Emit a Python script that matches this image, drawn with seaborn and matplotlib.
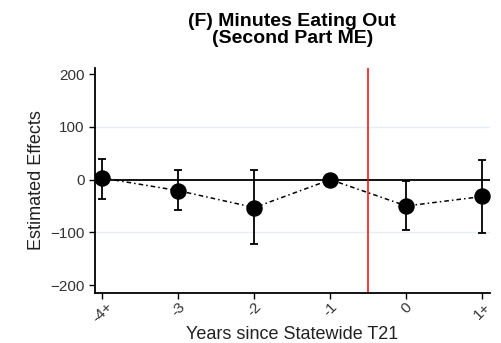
import matplotlib
matplotlib.use("Agg")
import matplotlib.pyplot as plt
import seaborn as sns
import pandas as pd

# Datos
years = [-4, -3, -2, -1, 0, 1]
year_labels = ["-4+", "-3", "-2", "-1", "0", "1+"]
estimate = [3, -21, -53, 0, -50, -32]
ci_low = [-36, -57, -122, 0, -95, -101]
ci_high = [40, 19, 19, 0, -2, 37]

df = pd.DataFrame({"year": years, "estimate": estimate})

sns.set_style("white")
plt.rcParams["font.family"] = ["Liberation Sans", "DejaVu Sans"]

fig = plt.figure(figsize=(5.02, 3.43), dpi=100)
ax = fig.add_axes([0.189, 0.146, 0.787, 0.656])

# lineas de referencia
for yv in [-100, 100]:
    ax.axhline(yv, color="#e6eef5", lw=1, zorder=0)
ax.axhline(0, color="black", lw=1.3, zorder=1)
ax.axvline(-0.5, color="red", lw=1.1, zorder=1)

# intervalos de confianza (sin barra para el periodo de referencia)
for x, lo, hi in zip(years, ci_low, ci_high):
    if lo == hi:
        continue
    ax.errorbar([x], [(lo + hi) / 2], yerr=[[(hi - lo) / 2]], fmt="none",
                ecolor="black", elinewidth=1.3, capsize=3, capthick=1.3, zorder=2)

sns.lineplot(data=df, x="year", y="estimate", ax=ax, color="black",
             lw=1.1, linestyle=(0, (3, 2, 1, 2)), zorder=3)
sns.scatterplot(data=df, x="year", y="estimate", ax=ax, color="black",
                s=120, edgecolor="black", zorder=4)

ax.set_xlim(-4.1, 1.1)
ax.set_ylim(-215, 212)
ax.set_yticks([-200, -100, 0, 100, 200])
ax.set_xticks(years)
ax.set_xticklabels(year_labels, rotation=45, ha="center")

for s in ["top", "right"]:
    ax.spines[s].set_visible(False)
for s in ["left", "bottom"]:
    ax.spines[s].set_color("black")
    ax.spines[s].set_linewidth(1.3)
ax.tick_params(axis="both", direction="out", length=4, width=1, color="black",
               labelsize=11, labelcolor="#333333", bottom=True, left=True)
ax.tick_params(axis="x", pad=1)

ax.set_xlabel("Years since Statewide T21", fontsize=13, color="#222222", labelpad=0)
ax.set_ylabel("Estimated Effects", fontsize=13, color="#222222", labelpad=4)
ax.set_title("(F) Minutes Eating Out\n(Second Part ME)", fontsize=14,
             fontweight="bold", color="black", linespacing=1.0, pad=18)

plt.savefig("out.png", dpi=100)
